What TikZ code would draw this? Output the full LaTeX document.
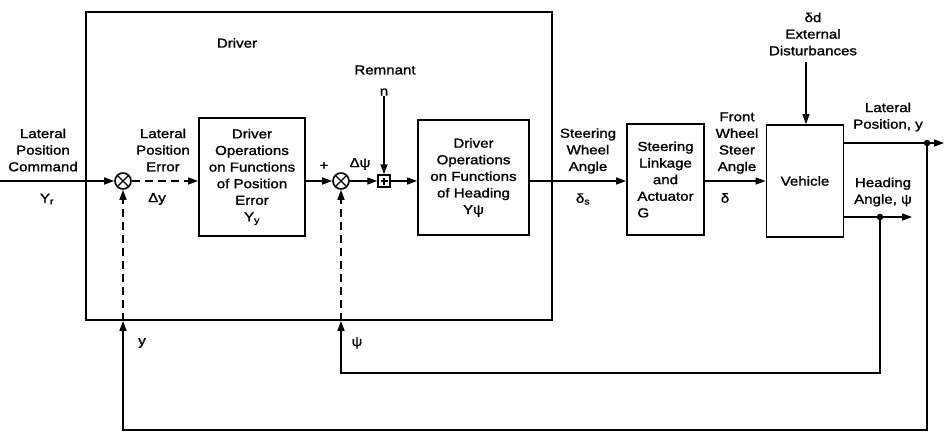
\documentclass[tikz,border=0pt]{standalone}
\usepackage{fontspec}
\setmainfont{Liberation Sans}[FakeStretch=1.16,FakeBold=1.4]
\usetikzlibrary{arrows.meta}
\newcommand\diafont{\fontsize{13}{16.6}\selectfont}
\begin{document}
\begin{tikzpicture}[x=1pt,y=-1pt,
  box/.style={draw, line width=1.8pt, inner sep=0pt, align=center, font=\diafont},
  lbl/.style={align=center, inner sep=0pt, font=\diafont},
  conn/.style={line width=1.5pt},
  arr/.style={conn, -{Triangle[length=10pt,width=7pt]}},
  dsh/.style={arr, dash pattern=on 8pt off 5pt},
  sumnode/.style={circle, draw, line width=1.6pt, minimum size=16pt, inner sep=0pt,
    path picture={
      \draw[line width=1.3pt] ([shift={(45:8pt)}]path picture bounding box.center) -- ([shift={(225:8pt)}]path picture bounding box.center);
      \draw[line width=1.3pt] ([shift={(135:8pt)}]path picture bounding box.center) -- ([shift={(315:8pt)}]path picture bounding box.center);}},
  plusnode/.style={rectangle, draw, line width=1.5pt, minimum size=12pt, inner sep=0pt,
    path picture={
      \draw[line width=1.2pt] ([xshift=-3.5pt]path picture bounding box.center) -- ([xshift=3.5pt]path picture bounding box.center);
      \draw[line width=1.2pt] ([yshift=-3.5pt]path picture bounding box.center) -- ([yshift=3.5pt]path picture bounding box.center);}},
  dot/.style={circle, fill, inner sep=0pt, minimum size=6.5pt}
]
\useasboundingbox (0,0) rectangle (944,432);

% driver enclosure
\node[draw, line width=1.8pt, minimum width=466pt, minimum height=308pt, inner sep=0pt] (driver) at (319,166) {};
\node[lbl] (drvlbl) at (237,43) {Driver};
\node[lbl] (remlbl) at (385,70) {Remnant};
\node[lbl] (nlbl) at (384,92) {n};

% blocks
\node[box, minimum width=106pt, minimum height=118pt] (box1) at (252,177) {Driver\\Operations\\on Functions\\of Position\\Error\\Y\textsubscript{y}};
\node[sumnode] (sum1) at (123,181) {};
\node[sumnode] (sum2) at (341,181) {};
\node[plusnode] (plusb) at (384,181) {};
\node[box, minimum width=111pt, minimum height=115pt] (box2) at (473.5,177.5) {Driver\\Operations\\on Functions\\of Heading\\Yψ};
\node[box, minimum width=77pt, minimum height=111pt] (box3) at (665.5,179.5) {Steering\\Linkage\\and\\Actuator\\\rlap{G}\phantom{Actuator}};
\node[box, minimum width=77pt, minimum height=112pt] (veh) at (805,181) {Vehicle};

% labels
\node[lbl] (lpc) at (43,150) {Lateral\\Position\\Command};
\node[lbl] (yr) at (47,199) {Y\textsubscript{r}};
\node[lbl] (lpe) at (163,150) {Lateral\\Position\\Error};
\node[lbl] (dy) at (157,199) {Δy};
\node[lbl] (plus) at (324,166) {+};
\node[lbl] (dpsi) at (360,164) {Δψ};
\node[lbl] (swa) at (588,151) {Steering\\Wheel\\Angle};
\node[lbl] (ds) at (583,199) {δ\textsubscript{s}};
\node[lbl] (fwsa) at (737,143) {Front\\Wheel\\Steer\\Angle};
\node[lbl] (dl) at (725,198) {δ};
\node[lbl] (ext) at (813,34) {δd\\External\\Disturbances};
\node[lbl] (lpy) at (888,117) {Lateral\\Position, y};
\node[lbl] (hap) at (883,192) {Heading\\Angle, ψ};
\node[lbl] (ylbl) at (142,343) {y};
\node[lbl] (psilbl) at (357,343) {ψ};

% coordinates
\coordinate (inL) at (0,181);
\node[dot] (dotY) at (927,143) {};
\node[dot] (dotP) at (880,217) {};
\coordinate (outY) at (944,143);
\coordinate (outP) at (912,217);
\coordinate (cornY) at (123,430);
\coordinate (cornP) at (341,373);
\coordinate (extTop) at (806,62);

% forward path
\draw[arr] (inL) -- (sum1);
\draw[dsh] (sum1) -- (box1.west |- sum1);
\draw[arr] (box1.east |- sum1) -- (sum2);
\draw[arr] (sum2) -- (plusb);
\draw[arr] (nlbl) -- (plusb);
\draw[arr] (plusb) -- (box2.west |- plusb);
\draw[arr] (box2.east |- sum1) -- (box3.west |- sum1);
\draw[arr] (box3.east |- sum1) -- (veh.west |- sum1);
\draw[arr] (extTop) -- (veh.north -| extTop);
\draw[arr] (veh.east |- dotY) -- (outY);
\draw[arr] (veh.east |- dotP) -- (outP);

% feedback
\draw[arr] (dotY.center) |- (cornY) -- (sum1 |- driver.south);
\draw[dsh] (sum1 |- driver.south) -- (sum1);
\draw[arr] (dotP.center) |- (cornP) -- (sum2 |- driver.south);
\draw[dsh] (sum2 |- driver.south) -- (sum2);
\end{tikzpicture}
\end{document}
